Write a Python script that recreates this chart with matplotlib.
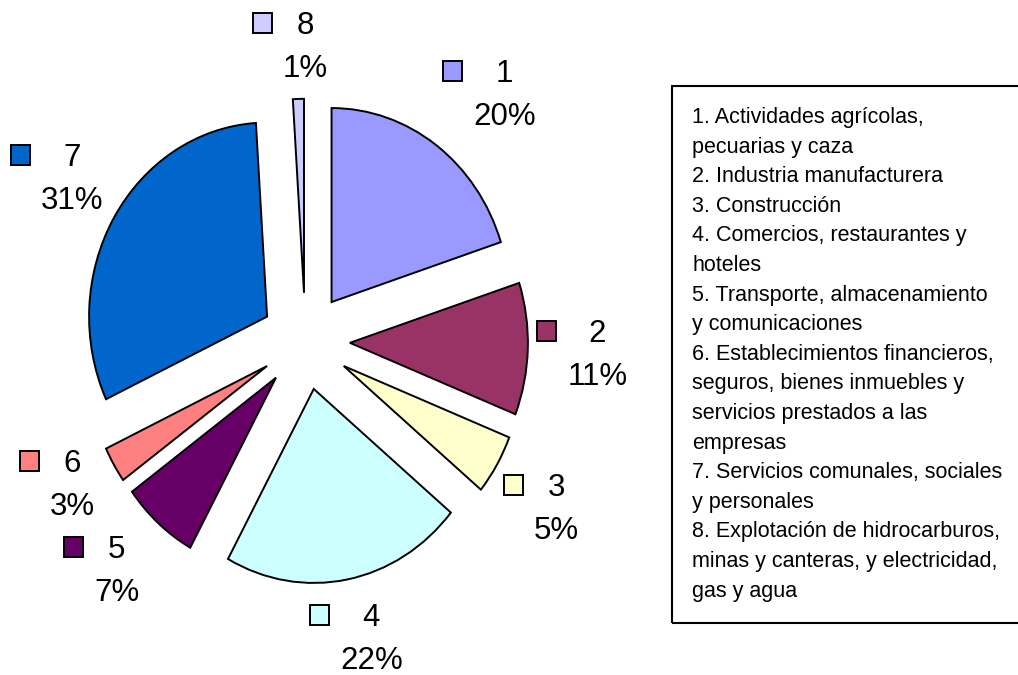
import matplotlib
matplotlib.use('Agg')
import matplotlib.pyplot as plt
from matplotlib import font_manager as fm
from matplotlib.patches import Rectangle
from matplotlib.transforms import offset_copy

# shares by sector (%), clockwise from 12 o'clock
numbers = ['1', '2', '3', '4', '5', '6', '7', '8']
shares = [20, 11, 5, 22, 7, 3, 31, 1]
sectors = [
    'Actividades agrícolas,\npecuarias y caza',
    'Industria manufacturera',
    'Construcción',
    'Comercios, restaurantes y\nhoteles',
    'Transporte, almacenamiento\ny comunicaciones',
    'Establecimientos financieros,\nseguros, bienes inmuebles y\nservicios prestados a las\nempresas',
    'Servicios comunales, sociales\ny personales',
    'Explotación de hidrocarburos,\nminas y canteras, y electricidad,\ngas y agua',
]
colors = ['#9999FF', '#993366', '#FFFFCC', '#CCFFFF',
          '#660066', '#FF8080', '#0066CC', '#CCCCFF']

# where each data label sits (centre of the text, data units)
label_xy = [(1.12, 1.28), (1.64, -0.06), (1.41, -0.85), (0.37, -1.52),
            (-1.06, -1.17), (-1.31, -0.73), (-1.31, 0.85), (0.00, 1.53)]

W, H = 1018, 675
cx_px, cy_px = 305.4, 341.3     # pie centre in pixels (from top-left)
sx, sy = 178.0, 194.0           # pixels per unit (image is squeezed sideways)

installed = {f.name for f in fm.fontManager.ttflist}
if 'Liberation Sans Narrow' in installed:
    leg_font, leg_size = 'Liberation Sans Narrow', 18.5
else:
    leg_font, leg_size = 'Liberation Sans', 15.5
lab_font = 'Liberation Sans'

fig = plt.figure(figsize=(W / 100, H / 100), dpi=100)
ax = fig.add_axes([0, 0, 1, 1])

ax.pie(shares, colors=colors, startangle=90, counterclock=False,
       explode=[0.25] * len(shares), radius=1.0,
       wedgeprops=dict(edgecolor='black', linewidth=1.4))
ax.set_aspect('auto')
ax.set_xlim(-cx_px / sx, (W - cx_px) / sx)
ax.set_ylim(-(H - cy_px) / sy, cy_px / sy)
ax.axis('off')

renderer = fig.canvas.get_renderer()
up = offset_copy(ax.transData, fig=fig, x=0, y=10.5, units='dots')
down = offset_copy(ax.transData, fig=fig, x=0, y=-32.5, units='dots')
for num, val, col, (x, y) in zip(numbers, shares, colors, label_xy):
    ax.text(x, y, num, transform=up, ha='center', va='baseline',
            fontsize=22.5, family=lab_font)
    pt = ax.text(x, y, f'{val}%', transform=down, ha='center', va='baseline',
                 fontsize=22.5, family=lab_font)
    pw = pt.get_window_extent(renderer).width
    sq_x = x - (pw / 2 + 20.5) / sx
    sq_y = y + 21.5 / sy
    ax.add_patch(Rectangle((sq_x - 9.5 / sx, sq_y - 10 / sy), 19 / sx, 20 / sy,
                           facecolor=col, edgecolor='black', linewidth=1.4))

# legend box on the right
fig.patches.append(Rectangle((672 / W, 1 - 623 / H), 0.5, (623 - 86) / H,
                             transform=fig.transFigure, fill=False,
                             edgecolor='black', linewidth=1.5))
lines = []
for num, name in zip(numbers, sectors):
    lines += f'{num}. {name}'.split('\n')
for k, line in enumerate(lines):
    fig.text(692 / W, 1 - (123 + k * 29.6) / H, line, ha='left',
             va='baseline', fontsize=leg_size, family=leg_font)

fig.savefig('out.png', dpi=100)
